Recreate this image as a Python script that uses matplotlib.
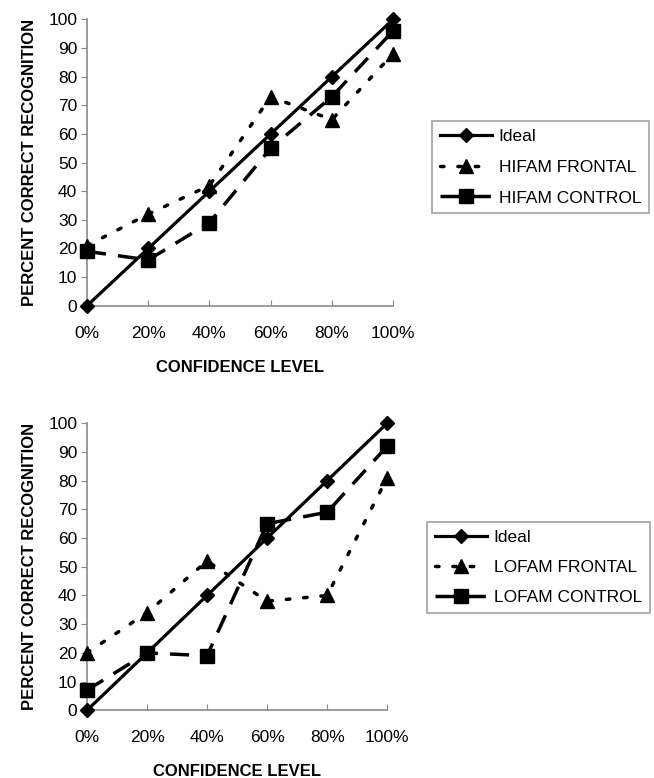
import matplotlib
matplotlib.use("Agg")
import matplotlib.pyplot as plt

# categorie e valori
conf_labels = ["0%", "20%", "40%", "60%", "80%", "100%"]
ideal = [0, 20, 40, 60, 80, 100]
hifam_frontal = [21, 32, 42, 73, 65, 88]
hifam_control = [19, 16, 29, 55, 73, 96]
lofam_frontal = [20, 34, 52, 38, 40, 81]
lofam_control = [7, 20, 19, 65, 69, 92]

plt.rcParams['font.family'] = ['Liberation Sans', 'DejaVu Sans']

fig = plt.figure(figsize=(6.54, 7.78), dpi=100)

# posizioni degli assi in frazioni della figura
ax1 = fig.add_axes([0.133, 0.607, 0.468, 0.368])
ax2 = fig.add_axes([0.133, 0.087, 0.459, 0.369])

x = list(range(len(conf_labels)))


def disegna(ax, frontal, control, nome_f, nome_c, leg_pos, spaziatura):
    ax.plot(x, ideal, color="black", lw=2.3, marker="D", ms=7, label="Ideal", zorder=3)
    ax.plot(x, frontal, color="black", lw=2.5, marker="^", ms=10.5,
            dashes=(1.0, 4.0), dash_capstyle="round", label=nome_f, zorder=3)
    ax.plot(x, control, color="black", lw=2.5, marker="s", ms=10.5,
            dashes=(5.5, 3.5), label=nome_c, zorder=3)
    ax.set_xlim(0, 5)
    ax.set_ylim(0, 100)
    ax.set_yticks(range(0, 101, 10))
    ax.set_xticks(x)
    ax.set_xticklabels(conf_labels)
    for s in ["top", "right"]:
        ax.spines[s].set_visible(False)
    for s in ["left", "bottom"]:
        ax.spines[s].set_color("#8a8a8a")
        ax.spines[s].set_linewidth(1.2)
    ax.tick_params(axis="y", direction="out", length=4, color="#8a8a8a",
                   labelsize=12.5, pad=3)
    ax.tick_params(axis="x", direction="in", length=4, color="#8a8a8a",
                   labelsize=12.5, pad=14.5)
    for ln in ax.lines:
        ln.set_clip_on(False)
    ax.set_ylabel("PERCENT CORRECT RECOGNITION", fontweight="bold", fontsize=12, labelpad=8)
    ax.set_xlabel("CONFIDENCE LEVEL", fontweight="bold", fontsize=12, labelpad=13.5)
    leg = ax.legend(loc="upper left", bbox_to_anchor=leg_pos, bbox_transform=fig.transFigure,
                    frameon=True, fancybox=False, edgecolor="#8a8a8a", fontsize=12.5,
                    handlelength=3.0, handletextpad=0.4, borderpad=0.45,
                    labelspacing=spaziatura, borderaxespad=0)
    leg.get_frame().set_linewidth(1.2)


disegna(ax1, hifam_frontal, hifam_control, "HIFAM FRONTAL", "HIFAM CONTROL",
        (432 / 654, 1 - 121 / 778), 0.9)
disegna(ax2, lofam_frontal, lofam_control, "LOFAM FRONTAL", "LOFAM CONTROL",
        (427 / 654, 1 - 522 / 778), 0.85)

fig.savefig("out.png", dpi=100)
